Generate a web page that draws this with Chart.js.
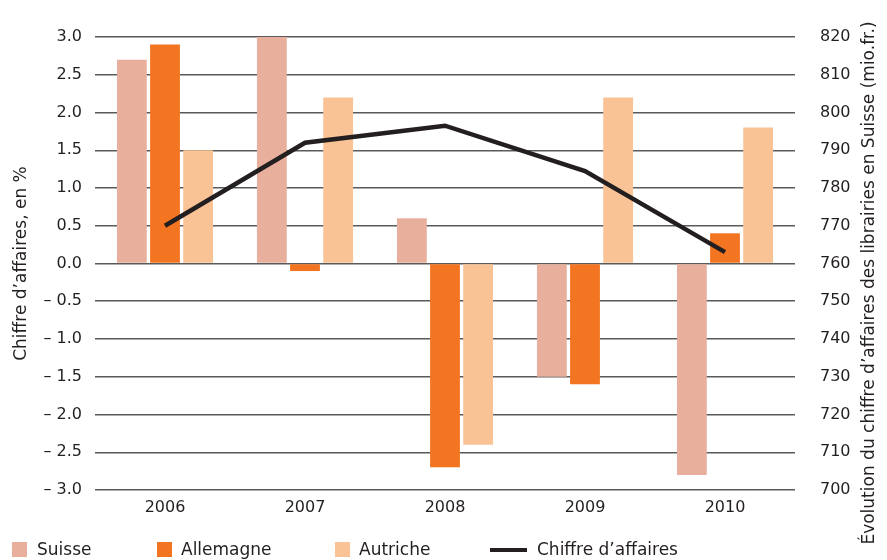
<!DOCTYPE html>
<html>
<head>
<meta charset="utf-8">
<script src="https://cdn.jsdelivr.net/npm/chart.js@4/dist/chart.umd.min.js"></script>
<style>
    body { margin: 0; background: #fff; }
    #wrap { position: relative; width: 887px; height: 560px; }
    .lg { position: absolute; top: 539px; font: 17px "DejaVu Sans", sans-serif; color: #231f20; }
    .sw { position: absolute; top: 542px; width: 15px; height: 15px; }
    .ln { position: absolute; top: 548px; height: 4px; background: #231f20; }
</style>
</head>
<body>
<div id="wrap">
    <canvas id="chart" width="887" height="560"></canvas>
    <div class="sw" style="left:12px;background:#e8b09c"></div>
    <div class="lg" style="left:37px">Suisse</div>
    <div class="sw" style="left:157px;background:#f37521"></div>
    <div class="lg" style="left:181px">Allemagne</div>
    <div class="sw" style="left:335px;background:#f9c396"></div>
    <div class="lg" style="left:359px">Autriche</div>
    <div class="ln" style="left:490px;width:37px"></div>
    <div class="lg" style="left:537px">Chiffre d’affaires</div>
</div>
<script>
    "use strict";
    var years = ["2006", "2007", "2008", "2009", "2010"];
    var suisse = [2.7, 3.0, 0.6, -1.5, -2.8];
    var allemagne = [2.9, -0.1, -2.7, -1.6, 0.4];
    var autriche = [1.5, 2.2, -2.4, 2.2, 1.8];
    var chiffre = [770, 792, 796.5, 784.5, 763];
    var leftTitle = "Chiffre d’affaires, en %";
    var rightTitle = "Évolution du chiffre d’affaires des librairies en Suisse (mio.fr.)";

    var textColor = "#231f20";
    var tickFont = { family: "DejaVu Sans", size: 16 };

    // axis titles, both read bottom to top
    var axisTitles = {
        id: "axisTitles",
        afterDraw: function (chart) {
            var ctx = chart.ctx;
            var area = chart.chartArea;
            ctx.save();
            ctx.fillStyle = textColor;
            ctx.font = "17px 'DejaVu Sans'";
            ctx.textAlign = "center";
            ctx.textBaseline = "middle";
            ctx.translate(22, (area.top + area.bottom) / 2);
            ctx.rotate(-Math.PI / 2);
            ctx.fillText(leftTitle, 0, 0);
            ctx.restore();
            ctx.save();
            ctx.fillStyle = textColor;
            ctx.font = "17px 'DejaVu Sans'";
            ctx.textAlign = "center";
            ctx.textBaseline = "middle";
            ctx.translate(870, 283);
            ctx.rotate(-Math.PI / 2);
            ctx.fillText(rightTitle, 0, 0);
            ctx.restore();
        },
    };

    new Chart(document.getElementById("chart"), {
        data: {
            labels: years,
            datasets: [
                {
                    type: "line",
                    label: "Chiffre d’affaires",
                    data: chiffre,
                    yAxisID: "y1",
                    borderColor: textColor,
                    borderWidth: 4.5,
                    pointRadius: 0,
                    tension: 0,
                    order: 0,
                },
                {
                    type: "bar",
                    label: "Suisse",
                    data: suisse,
                    backgroundColor: "#e8b09c",
                    order: 1,
                },
                {
                    type: "bar",
                    label: "Allemagne",
                    data: allemagne,
                    backgroundColor: "#f37521",
                    order: 1,
                },
                {
                    type: "bar",
                    label: "Autriche",
                    data: autriche,
                    backgroundColor: "#f9c396",
                    order: 1,
                },
            ],
        },
        options: {
            responsive: false,
            animation: false,
            devicePixelRatio: 1,
            layout: { padding: { top: 37, left: 0, right: 0, bottom: 0 } },
            datasets: {
                bar: { categoryPercentage: 0.71, barPercentage: 0.9 },
            },
            plugins: {
                legend: { display: false },
                tooltip: { enabled: false },
            },
            scales: {
                x: {
                    grid: { display: false, drawTicks: false },
                    border: { display: false },
                    ticks: { color: textColor, font: tickFont, padding: 8 },
                    afterFit: function (scale) {
                        scale.height = 70;
                    },
                },
                y: {
                    position: "left",
                    min: -3,
                    max: 3,
                    border: { display: false },
                    grid: { color: "#5a5a5a", lineWidth: 1.5, drawTicks: false },
                    ticks: {
                        stepSize: 0.5,
                        color: textColor,
                        font: tickFont,
                        padding: 13,
                        callback: function (v) {
                            return v < 0 ? "– " + Math.abs(v).toFixed(1) : v.toFixed(1);
                        },
                    },
                    afterFit: function (scale) {
                        scale.width = 95;
                    },
                },
                y1: {
                    position: "right",
                    min: 700,
                    max: 820,
                    border: { display: false },
                    grid: { display: false },
                    ticks: { stepSize: 10, color: textColor, font: tickFont, padding: 17 },
                    afterFit: function (scale) {
                        scale.width = 92;
                    },
                },
            },
        },
        plugins: [axisTitles],
    });
</script>
</body>
</html>
